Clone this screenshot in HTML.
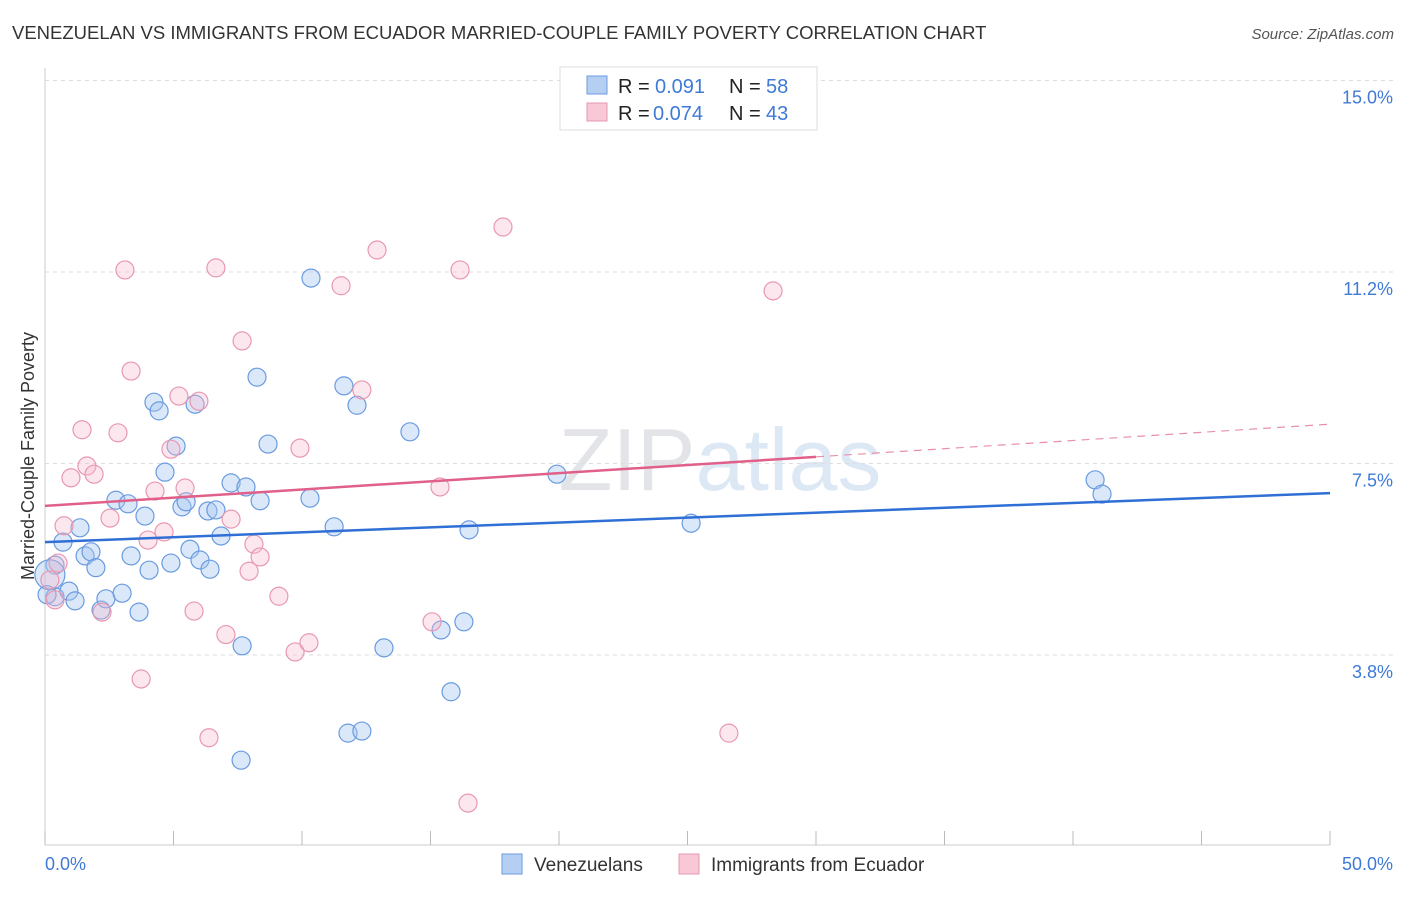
<!DOCTYPE html>
<html><head><meta charset="utf-8"><style>
body{margin:0;background:#fff;font-family:"Liberation Sans",sans-serif}
svg text{font-family:"Liberation Sans",sans-serif}
</style></head><body>
<svg id="c" width="1406" height="892">
<text x="12" y="39" font-size="18.5" fill="#333">VENEZUELAN VS IMMIGRANTS FROM ECUADOR MARRIED-COUPLE FAMILY POVERTY CORRELATION CHART</text>
<text x="1394" y="39" font-size="15" fill="#555" font-style="italic" text-anchor="end">Source: ZipAtlas.com</text>
<text x="720" y="490" font-size="88" fill="#e6e8ec" text-anchor="middle" font-family="Liberation Serif"><tspan fill="#e2e4e8">ZIP</tspan><tspan fill="#dde8f5" font-family="Liberation Sans">atlas</tspan></text>
<g id="grid"></g><g id="pts"></g><g id="lines"></g>
<text transform="translate(34,456) rotate(-90)" font-size="18" fill="#333" text-anchor="middle">Married-Couple Family Poverty</text>
<text x="45" y="870" font-size="18" fill="#3f7ad6">0.0%</text>
<text x="1393" y="870" font-size="18" fill="#3f7ad6" text-anchor="end">50.0%</text>
<g>
<rect x="560" y="67" width="257" height="63" fill="#fff" stroke="#ddd"/>
<rect x="587" y="76" width="20" height="18" fill="#b5cff2" stroke="#6a9be0"/>
<rect x="587" y="103" width="20" height="18" fill="#f8c8d6" stroke="#e898b0"/>
<text x="618" y="93" font-size="20" fill="#222">R =</text><text x="655" y="93" font-size="20" fill="#3f7ad6">0.091</text>
<text x="729" y="93" font-size="20" fill="#222">N =</text><text x="766" y="93" font-size="20" fill="#3f7ad6">58</text>
<text x="618" y="120" font-size="20" fill="#222">R =</text><text x="653" y="120" font-size="20" fill="#3f7ad6">0.074</text>
<text x="729" y="120" font-size="20" fill="#222">N =</text><text x="766" y="120" font-size="20" fill="#3f7ad6">43</text>
</g>
<g>
<rect x="502" y="854" width="20" height="20" fill="#b5cff2" stroke="#6a9be0"/>
<text x="534" y="871" font-size="19" fill="#333">Venezuelans</text>
<rect x="679" y="854" width="20" height="20" fill="#f8c8d6" stroke="#e898b0"/>
<text x="711" y="871" font-size="19" fill="#333">Immigrants from Ecuador</text>
</g>
</svg>
<script>
const yTicks=[3.8,7.5,11.2,15.0];
const yTickVals=[3.75,7.5,11.25,15];
const blueX=[0.39,0.39,0.70,0.93,1.17,1.36,1.56,1.79,1.98,2.18,2.37,2.76,3.00,3.23,3.35,3.66,3.89,4.05,4.24,4.44,4.67,4.90,5.10,5.33,5.49,5.64,5.84,6.03,6.34,6.42,6.65,6.85,7.24,7.67,7.82,8.25,8.37,8.68,7.63,10.31,10.35,11.25,11.63,11.79,12.14,12.33,13.19,14.20,15.41,15.80,16.30,16.50,19.92,25.14,40.86,41.13,0.19,0.08];
const blueY=[5.51,4.89,5.96,5.00,4.81,6.24,5.69,5.77,5.46,4.63,4.85,6.78,4.96,6.71,5.69,4.59,6.47,5.41,8.70,8.53,7.33,5.55,7.84,6.65,6.75,5.82,8.66,5.61,6.57,5.43,6.59,6.08,7.12,3.93,7.04,9.19,6.77,7.88,1.69,6.82,11.13,6.26,9.02,2.22,8.64,2.26,3.89,8.12,4.24,3.03,4.40,6.20,7.29,6.33,7.18,6.90,5.32,4.93];
const pinkX=[0.19,0.39,0.51,0.74,1.01,1.44,1.63,1.91,2.22,2.53,2.84,3.11,3.35,3.74,4.01,4.28,4.63,4.90,5.21,5.45,5.80,5.99,6.38,6.65,7.04,7.24,7.67,7.94,8.13,8.37,9.10,9.73,9.92,10.27,11.52,12.33,12.92,15.06,15.37,16.15,16.46,17.82,26.61,28.33];
const pinkY=[5.22,4.83,5.55,6.28,7.22,8.16,7.45,7.29,4.59,6.43,8.10,11.29,9.31,3.28,6.00,6.96,6.16,7.78,8.82,7.02,4.61,8.72,2.13,11.33,4.15,6.41,9.90,5.39,5.92,5.67,4.90,3.81,7.80,3.99,10.98,8.94,11.68,4.40,7.04,11.29,0.85,12.13,2.22,10.88];
const blueTrend=[5.96,6.92];
const pinkTrend=[6.67,8.27];
const pinkSolidEnd=30;
const X=v=>45+v/50*1285, Y=v=>846.5-v*51.07;
const NS='http://www.w3.org/2000/svg';
function mk(t,a,p){const e=document.createElementNS(NS,t);for(const k in a)e.setAttribute(k,a[k]);p.appendChild(e);return e;}
const g=document.getElementById('grid');
mk('line',{x1:45,y1:68,x2:45,y2:845,stroke:'#ccc'},g);
mk('line',{x1:45,y1:845,x2:1330,y2:845,stroke:'#ccc'},g);
mk('line',{x1:45,y1:Y(15),x2:1393,y2:Y(15),stroke:'#ddd','stroke-dasharray':'4,4'},g);
yTickVals.forEach((v,i)=>{
 const l=mk('line',{x1:45,y1:Y(v),x2:1393,y2:Y(v),stroke:'#ddd','stroke-dasharray':'4,4'},g);
 
 
 const t=mk('text',{x:1393,y:Y(v)+23,'font-size':18,fill:'#3f7ad6','text-anchor':'end'},g);
 t.textContent=yTicks[i].toFixed(1)+'%';
 
 
});
for(let i=0;i<=10;i++){const l=mk('line',{x1:X(i*5),y1:831,x2:X(i*5),y2:845,stroke:'#bbb'},g);
 
 }
const p=document.getElementById('pts');
function pts(xs,ys,fill,stroke,name){xs.forEach((x,i)=>{
 const r=(name==='venezuelan-point'&&i===56)?15:9;
 const c=mk('circle',{cx:X(x),cy:Y(ys[i]),r:r,fill:fill,stroke:stroke,'stroke-width':1.2},p);
 
 });}
pts(blueX,blueY,'rgba(165,198,240,0.4)','#6a9be0','venezuelan-point');
pts(pinkX,pinkY,'rgba(246,185,205,0.35)','#e898b0','ecuador-point');
const L=document.getElementById('lines');
let b=mk('line',{x1:X(0),y1:Y(blueTrend[0]),x2:X(50),y2:Y(blueTrend[1]),stroke:'#2f6fd6','stroke-width':2.5},L);


const pm=v=>pinkTrend[0]+(pinkTrend[1]-pinkTrend[0])*v/50;
let s=mk('line',{x1:X(0),y1:Y(pinkTrend[0]),x2:X(pinkSolidEnd),y2:Y(pm(pinkSolidEnd)),stroke:'#e0608a','stroke-width':2.5},L);


let d=mk('line',{x1:X(pinkSolidEnd),y1:Y(pm(pinkSolidEnd)),x2:X(50),y2:Y(pinkTrend[1]),stroke:'#e890aa','stroke-width':1.2,'stroke-dasharray':'8,6'},L);


</script>
</body></html>
